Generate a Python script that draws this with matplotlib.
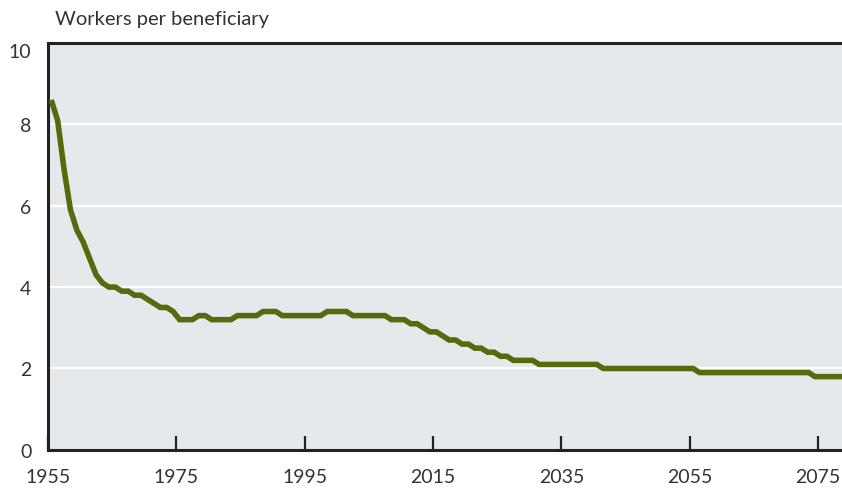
import numpy as np
import matplotlib
matplotlib.use("Agg")
import matplotlib.pyplot as plt

# covered workers per OASDI beneficiary, annual
years = np.arange(1955, 2081)
workers_per_beneficiary = [
    8.6, 8.1, 6.9, 5.9, 5.4, 5.1, 4.7, 4.3, 4.1, 4.0,   # 1955-1964
    4.0, 3.9, 3.9, 3.8, 3.8, 3.7, 3.6, 3.5, 3.5, 3.4,   # 1965-1974
    3.2, 3.2, 3.2, 3.3, 3.3, 3.2, 3.2, 3.2, 3.2, 3.3,   # 1975-1984
    3.3, 3.3, 3.3, 3.4, 3.4, 3.4, 3.3, 3.3, 3.3, 3.3,   # 1985-1994
    3.3, 3.3, 3.3, 3.4, 3.4, 3.4, 3.4, 3.3, 3.3, 3.3,   # 1995-2004
    3.3, 3.3, 3.3, 3.2, 3.2, 3.2, 3.1, 3.1, 3.0, 2.9,   # 2005-2014
    2.9, 2.8, 2.7, 2.7, 2.6, 2.6, 2.5, 2.5, 2.4, 2.4,   # 2015-2024
    2.3, 2.3, 2.2, 2.2, 2.2, 2.2, 2.1, 2.1, 2.1, 2.1,   # 2025-2034
    2.1, 2.1, 2.1, 2.1, 2.1, 2.1, 2.0, 2.0, 2.0, 2.0,   # 2035-2044
    2.0, 2.0, 2.0, 2.0, 2.0, 2.0, 2.0, 2.0, 2.0, 2.0,   # 2045-2054
    2.0, 1.9, 1.9, 1.9, 1.9, 1.9, 1.9, 1.9, 1.9, 1.9,   # 2055-2064
    1.9, 1.9, 1.9, 1.9, 1.9, 1.9, 1.9, 1.9, 1.9, 1.8,   # 2065-2074
    1.8, 1.8, 1.8, 1.8, 1.8, 1.8,                       # 2075-2080
]
x_ticks = [1955, 1975, 1995, 2015, 2035, 2055, 2075]
y_ticks = [0, 2, 4, 6, 8, 10]

plt.rcParams['font.family'] = ['Lato', 'DejaVu Sans']
text_color = '#333333'

fig = plt.figure(figsize=(8.42, 4.89), dpi=100)
ax = fig.add_axes([0.057, 0.078, 0.943, 0.832])
ax.set_facecolor('#e6e9ec')

# annual values sit at mid-year
ax.plot(years + 0.5, workers_per_beneficiary, color='#566b0c', linewidth=4.0,
        solid_joinstyle='miter', solid_capstyle='butt', zorder=3)

ax.set_xlim(1955, 2078.7)
ax.set_ylim(0, 10)
ax.set_xticks(x_ticks)
ax.set_yticks(y_ticks)
ax.set_xticklabels([str(y) for y in x_ticks])
ax.set_yticklabels([str(v) for v in y_ticks])

for v in [2, 4, 6, 8]:
    ax.axhline(v, color='white', linewidth=1.6, zorder=1)

for side in ['left', 'bottom', 'top']:
    ax.spines[side].set_color('#222222')
    ax.spines[side].set_linewidth(2.2)
ax.spines['right'].set_visible(False)

ax.tick_params(axis='x', direction='in', length=10, width=1.6, color='#222222',
               pad=13, labelsize=14, labelcolor=text_color)
ax.tick_params(axis='y', length=0, pad=12, labelsize=14, labelcolor=text_color)
ax.yaxis.get_major_ticks()[-1].label1.set_verticalalignment('top')

fig.text(55 / 842, 1 - 25 / 489, 'Workers per beneficiary', fontsize=14.5,
         color=text_color, ha='left', va='baseline')

fig.savefig('out.png', dpi=100)
